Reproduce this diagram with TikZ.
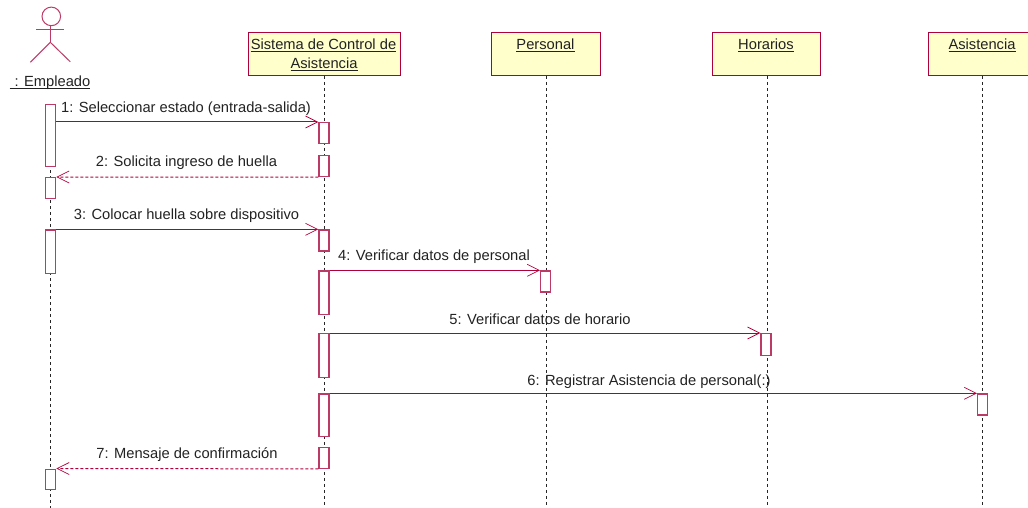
\documentclass[tikz,border=0pt]{standalone}
\usepackage{fontspec}
\setmainfont{Liberation Sans}
\usetikzlibrary{arrows.meta}
\definecolor{umlline}{HTML}{B0003C}
\definecolor{umlbox}{HTML}{BC3A66}
\definecolor{umlfill}{HTML}{FFFFCC}
\definecolor{umltext}{HTML}{222222}
\tikzset{
  obj/.style={draw=umlline,fill=umlfill,line width=1.1pt,inner sep=0pt,anchor=north west},
  act/.style={draw=umlbox,fill=white,line width=1.2pt,inner sep=0pt,anchor=north west,minimum width=10pt},
  life/.style={draw=black!85,line width=1pt,dash pattern=on 3pt off 3pt},
  msg/.style={draw=umlline,line width=1pt,-{Straight Barb[length=12pt,width=12pt,line width=.7pt]}},
  ret/.style={msg,dash pattern=on 3pt off 2pt},
  lbl/.style={anchor=base,inner sep=0pt,text=umltext,font=\fontsize{14.7}{17}\selectfont},
  limb/.style={draw=umlbox,line width=1pt}
}
\newcommand{\ul}[1]{\underline{\smash{#1}}}
\begin{document}
\begin{tikzpicture}[x=1pt,y=-1pt]
\path[use as bounding box] (0,0) rectangle (1028,508);
\clip (0,0) rectangle (1028,508);
% actor
\node[draw=umlbox,line width=1pt,circle,minimum size=18.6pt,inner sep=0pt] (head) at (51.3,16.4) {};
\coordinate (hip) at (50.3,42.3);
\coordinate (armL) at (36,29.7);
\coordinate (armR) at (64.3,29.7);
\coordinate (legL) at (30.3,62.3);
\coordinate (legR) at (70.3,61.8);
\draw[limb] (head.south -| hip) -- (hip);
\draw[limb] (armL) -- (armR);
\draw[limb] (legL) -- (hip) -- (legR);
\node[lbl] (empleado) at (50,86.5) {\ul{\hspace{5pt}: Empleado}};
% objects
\node[obj,minimum width=151.5pt,minimum height=42.5pt] (sis) at (248,32.3) {};
\node[obj,minimum width=109pt,minimum height=42.5pt] (per) at (491,32.3) {};
\node[obj,minimum width=108pt,minimum height=42.5pt] (hor) at (712,32.3) {};
\node[obj,minimum width=108pt,minimum height=42.5pt] (asi) at (928,32.3) {};
\node[lbl] (sist) at (323.5,50) {\ul{Sistema de Control de}};
\node[lbl] (sist2) at (324,68.5) {\ul{Asistencia}};
\node[lbl] (pert) at (545.5,50) {\ul{Personal}};
\node[lbl] (hort) at (766,50) {\ul{Horarios}};
\node[lbl] (asit) at (982,50) {\ul{Asistencia}};
% lifelines
\coordinate (e0) at (50.5,104);
\coordinate (e0b) at (50.5,508);
\coordinate (s0b) at (324,508);
\coordinate (p0b) at (546,508);
\coordinate (h0b) at (767,508);
\coordinate (a0b) at (982.5,508);
\draw[life] (e0) -- (e0b);
\draw[life] (sis.south -| s0b) -- (s0b);
\draw[life] (per.south -| p0b) -- (p0b);
\draw[life] (hor.south -| h0b) -- (h0b);
\draw[life] (asi.south -| a0b) -- (a0b);
% activations: empleado
\node[act,minimum height=61.5pt] (e1) at (45.2,104) {};
\node[act,minimum height=20.5pt] (e2) at (45.2,177) {};
\node[act,minimum height=43.5pt] (e3) at (45.2,229.3) {};
\node[act,minimum height=20.5pt] (e4) at (45.2,468.5) {};
% activations: sistema
\node[act,minimum height=21pt] (s1) at (318.3,122) {};
\node[act,minimum height=21pt] (s2) at (318.3,155) {};
\node[act,minimum height=21pt] (s3) at (318.3,229.3) {};
\node[act,minimum height=43.5pt] (s4) at (318.3,270.3) {};
\node[act,minimum height=43.5pt] (s5) at (318.3,333) {};
\node[act,minimum height=42.5pt] (s6) at (318.3,393.3) {};
\node[act,minimum height=21pt] (s7) at (318.3,446.7) {};
% activations: others
\node[act,minimum height=21pt] (p1) at (540,270.3) {};
\node[act,minimum height=22pt] (h1) at (760.3,333) {};
\node[act,minimum height=21pt] (a1) at (977,393.3) {};
% messages
\draw[msg] (e1.east |- s1.north west) -- (s1.north west);
\draw[ret] (s2.south west) -- (e2.north east);
\draw[msg] (e3.north east) -- (s3.north west);
\draw[msg] (s4.north east) -- (p1.north west);
\draw[msg] (s5.north east) -- (h1.north west);
\draw[msg] (s6.north east) -- (a1.north west);
\draw[ret] (s7.south west) -- (e4.north east);
% labels
\node[lbl] (m1) at (186,112.5) {1: Seleccionar estado (entrada-salida)};
\node[lbl] (m2) at (186.5,166) {2: Solicita ingreso de huella};
\node[lbl] (m3) at (186.5,219) {3: Colocar huella sobre dispositivo};
\node[lbl] (m4) at (434,260) {4: Verificar datos de personal};
\node[lbl] (m5) at (540,324) {5: Verificar datos de horario};
\node[lbl] (m6) at (649,385) {6: Registrar Asistencia de personal(:)};
\node[lbl] (m7) at (187,458) {7: Mensaje de confirmación};
\end{tikzpicture}
\end{document}
